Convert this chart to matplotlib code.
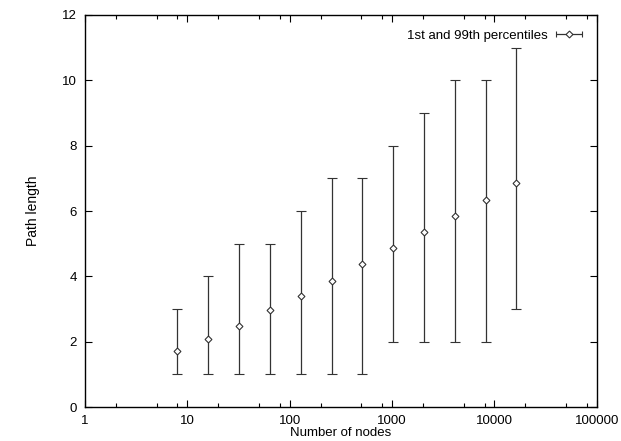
import numpy as np
import matplotlib
matplotlib.use('Agg')
import matplotlib.pyplot as plt
from matplotlib.ticker import FixedLocator, NullFormatter
from matplotlib.legend_handler import HandlerErrorbar

plt.rcParams['font.family'] = ['Liberation Sans', 'DejaVu Sans']

nodes = [8, 16, 32, 64, 128, 256, 512, 1024, 2048, 4096, 8192, 16384]
mean_len = [1.72, 2.08, 2.49, 2.96, 3.39, 3.87, 4.37, 4.88, 5.36, 5.84, 6.34, 6.87]
p1 = [1, 1, 1, 1, 1, 1, 1, 2, 2, 2, 2, 3]
p99 = [3, 4, 5, 5, 6, 7, 7, 8, 9, 10, 10, 11]

mean_arr = np.array(mean_len)
yerr = [mean_arr - np.array(p1), np.array(p99) - mean_arr]

fig = plt.figure(figsize=(6.21, 4.41), dpi=100)
ax = fig.add_axes([0.137, 0.077, 0.824, 0.889])

ax.errorbar(nodes, mean_len, yerr=yerr, fmt='D', color='#333333',
            ecolor='#333333', elinewidth=0.9, capsize=3.5, capthick=0.9,
            markersize=3.5, markerfacecolor='white', markeredgecolor='#333333',
            markeredgewidth=0.8)

# legend proxy with horizontal error bar, like the gnuplot key
proxy = ax.errorbar([np.nan], [np.nan], xerr=[[np.nan], [np.nan]], fmt='D',
                    color='#333333', ecolor='#333333', elinewidth=0.9,
                    capsize=2.5, capthick=0.9, markersize=3.5,
                    markerfacecolor='white', markeredgecolor='#333333',
                    markeredgewidth=0.8)
ax.legend([proxy], ['1st and 99th percentiles'], loc='upper right',
          markerfirst=False, frameon=False, fontsize=9.5, handlelength=2.0,
          handletextpad=0.6, borderaxespad=0.7,
          handler_map={type(proxy): HandlerErrorbar(xerr_size=1.0)})

ax.set_xscale('log')
ax.set_xlim(1, 100000)
ax.set_ylim(0, 12)
ax.set_yticks(range(0, 13, 2))
ax.set_xticks([1, 10, 100, 1000, 10000, 100000])
ax.set_xticklabels(['1', '10', '100', '1000', '10000', '100000'])
minors = [m * 10 ** d for d in range(5) for m in (2, 5, 8)]
ax.xaxis.set_minor_locator(FixedLocator(minors))
ax.xaxis.set_minor_formatter(NullFormatter())

ax.tick_params(which='both', direction='in', top=True, right=True,
               labelsize=9.5, width=0.8)
ax.tick_params(which='major', length=5)
ax.tick_params(axis='x', which='major', pad=6)
ax.tick_params(axis='y', which='major', pad=6)
ax.tick_params(which='minor', length=3)
for s in ax.spines.values():
    s.set_linewidth(1.0)

ax.set_xlabel('Number of nodes', fontsize=9.5, labelpad=-0.5)
ax.set_ylabel('Path length', fontsize=10, labelpad=16)

fig.savefig('out.png', dpi=100)
